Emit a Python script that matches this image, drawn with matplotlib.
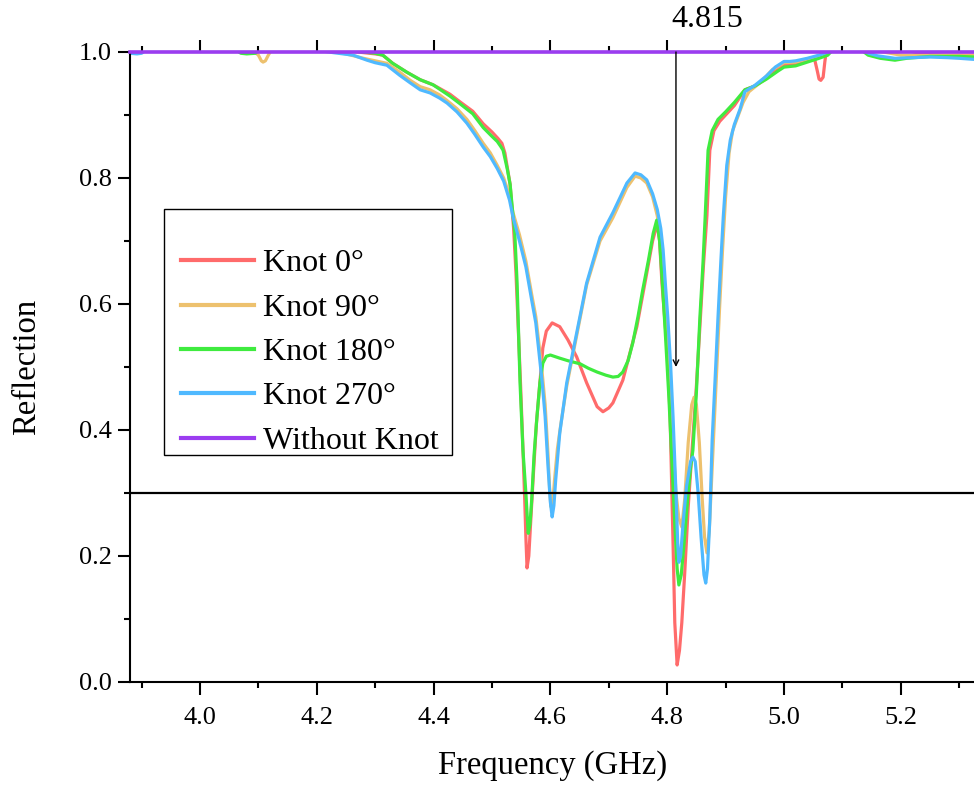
import numpy as np
import matplotlib
matplotlib.use("Agg")
import matplotlib.pyplot as plt
from matplotlib.patches import Rectangle

# ---------------- data ----------------
knot0_freq = [3.880, 4.000, 4.200, 4.250, 4.300, 4.313, 4.330, 4.354, 4.377, 4.399, 4.428, 4.445,
              4.467, 4.485, 4.500, 4.510, 4.517, 4.522, 4.531, 4.537, 4.541, 4.545, 4.549, 4.553,
              4.556, 4.558, 4.560, 4.563, 4.566, 4.570, 4.576, 4.582, 4.587, 4.593, 4.603, 4.616,
              4.630, 4.645, 4.662, 4.680, 4.690, 4.700, 4.707, 4.724, 4.748, 4.765, 4.775, 4.783,
              4.787, 4.791, 4.800, 4.805, 4.808, 4.811, 4.813, 4.817, 4.821, 4.825, 4.830, 4.836,
              4.842, 4.850, 4.857, 4.862, 4.868, 4.873, 4.880, 4.890, 4.900, 4.915, 4.933, 4.950,
              4.970, 4.990, 5.000, 5.020, 5.040, 5.052, 5.057, 5.060, 5.063, 5.067, 5.070, 5.073,
              5.200, 5.240, 5.280, 5.330]
knot0_refl = [1.005, 1.005, 1.005, 1.002, 0.997, 0.995, 0.982, 0.968, 0.956, 0.948, 0.933, 0.921,
              0.906, 0.886, 0.873, 0.863, 0.855, 0.840, 0.790, 0.720, 0.650, 0.560, 0.470, 0.370,
              0.290, 0.230, 0.181, 0.200, 0.250, 0.316, 0.410, 0.475, 0.530, 0.557, 0.570, 0.564,
              0.543, 0.516, 0.475, 0.437, 0.429, 0.435, 0.443, 0.479, 0.564, 0.649, 0.700, 0.728,
              0.700, 0.633, 0.527, 0.421, 0.300, 0.180, 0.094, 0.027, 0.050, 0.094, 0.173, 0.278,
              0.360, 0.470, 0.580, 0.660, 0.740, 0.844, 0.875, 0.890, 0.900, 0.915, 0.940, 0.946,
              0.958, 0.973, 0.980, 0.981, 0.986, 0.990, 0.970, 0.957, 0.955, 0.960, 0.985, 1.005,
              1.005, 0.996, 0.995, 0.995]

knot90_freq = [3.880, 4.090, 4.100, 4.105, 4.108, 4.112, 4.117, 4.122, 4.220, 4.250, 4.280, 4.300,
               4.320, 4.342, 4.360, 4.377, 4.394, 4.410, 4.423, 4.440, 4.457, 4.470, 4.485, 4.497,
               4.509, 4.520, 4.530, 4.536, 4.547, 4.558, 4.568, 4.575, 4.580, 4.586, 4.591, 4.596,
               4.599, 4.601, 4.604, 4.607, 4.612, 4.618, 4.628, 4.645, 4.662, 4.685, 4.707, 4.731,
               4.745, 4.755, 4.765, 4.775, 4.783, 4.789, 4.793, 4.797, 4.801, 4.806, 4.810, 4.815,
               4.820, 4.825, 4.830, 4.836, 4.842, 4.846, 4.850, 4.855, 4.860, 4.864, 4.868, 4.872,
               4.876, 4.880, 4.885, 4.890, 4.895, 4.900, 4.906, 4.912, 4.920, 4.930, 4.940, 4.960,
               4.980, 5.000, 5.020, 5.040, 5.060, 5.080, 5.140, 5.200, 5.300, 5.330]
knot90_refl = [1.005, 1.003, 0.995, 0.986, 0.984, 0.986, 0.995, 1.003, 1.002, 0.997, 0.990, 0.986,
               0.982, 0.968, 0.955, 0.945, 0.940, 0.932, 0.923, 0.910, 0.893, 0.876, 0.855, 0.840,
               0.820, 0.800, 0.772, 0.745, 0.710, 0.668, 0.615, 0.580, 0.540, 0.490, 0.440, 0.360,
               0.300, 0.278, 0.285, 0.320, 0.370, 0.410, 0.470, 0.550, 0.630, 0.700, 0.737, 0.785,
               0.803, 0.800, 0.792, 0.770, 0.740, 0.700, 0.660, 0.600, 0.540, 0.460, 0.380, 0.300,
               0.260, 0.246, 0.290, 0.380, 0.440, 0.452, 0.440, 0.380, 0.290, 0.230, 0.205, 0.240,
               0.320, 0.400, 0.500, 0.600, 0.690, 0.770, 0.840, 0.875, 0.895, 0.920, 0.937, 0.952,
               0.972, 0.983, 0.984, 0.989, 0.994, 1.005, 1.005, 0.995, 0.994, 0.994]

knot180_freq = [3.880, 4.060, 4.070, 4.080, 4.095, 4.100, 4.250, 4.300, 4.313, 4.330, 4.354, 4.377,
                4.399, 4.428, 4.445, 4.467, 4.485, 4.500, 4.509, 4.515, 4.519, 4.526, 4.531, 4.536,
                4.539, 4.543, 4.548, 4.553, 4.558, 4.562, 4.565, 4.568, 4.572, 4.577, 4.582, 4.587,
                4.593, 4.600, 4.616, 4.630, 4.651, 4.665, 4.680, 4.695, 4.707, 4.716, 4.724, 4.733,
                4.741, 4.750, 4.758, 4.768, 4.776, 4.782, 4.787, 4.792, 4.797, 4.803, 4.808, 4.813,
                4.817, 4.820, 4.824, 4.828, 4.835, 4.840, 4.844, 4.850, 4.856, 4.861, 4.865, 4.870,
                4.877, 4.887, 4.900, 4.915, 4.933, 4.950, 4.970, 4.990, 5.000, 5.020, 5.040, 5.060,
                5.075, 5.085, 5.130, 5.144, 5.165, 5.190, 5.210, 5.250, 5.300, 5.330]
knot180_refl = [1.005, 1.004, 0.998, 0.997, 0.998, 1.004, 1.003, 0.998, 0.995, 0.982, 0.968, 0.956,
                0.948, 0.930, 0.918, 0.902, 0.880, 0.866, 0.858, 0.850, 0.844, 0.815, 0.790, 0.740,
                0.713, 0.633, 0.475, 0.368, 0.300, 0.236, 0.250, 0.289, 0.360, 0.421, 0.475, 0.506,
                0.517, 0.519, 0.514, 0.510, 0.505, 0.498, 0.492, 0.487, 0.484, 0.485, 0.492, 0.510,
                0.538, 0.580, 0.622, 0.670, 0.712, 0.733, 0.700, 0.630, 0.550, 0.450, 0.350, 0.250,
                0.180, 0.154, 0.170, 0.210, 0.290, 0.340, 0.368, 0.460, 0.579, 0.660, 0.738, 0.844,
                0.875, 0.893, 0.905, 0.920, 0.940, 0.946, 0.957, 0.970, 0.976, 0.978, 0.984, 0.990,
                0.995, 1.005, 1.005, 0.995, 0.990, 0.987, 0.990, 0.993, 0.993, 0.992]

knot270_freq = [3.880, 3.892, 3.900, 3.910, 4.000, 4.100, 4.200, 4.228, 4.262, 4.286, 4.300, 4.320,
                4.342, 4.360, 4.377, 4.394, 4.410, 4.423, 4.440, 4.457, 4.470, 4.485, 4.497, 4.509,
                4.520, 4.530, 4.536, 4.547, 4.558, 4.568, 4.575, 4.580, 4.586, 4.591, 4.596, 4.600,
                4.603, 4.606, 4.609, 4.616, 4.628, 4.645, 4.662, 4.685, 4.707, 4.731, 4.745, 4.755,
                4.765, 4.775, 4.783, 4.789, 4.793, 4.797, 4.801, 4.806, 4.810, 4.815, 4.818, 4.820,
                4.823, 4.827, 4.833, 4.840, 4.844, 4.848, 4.853, 4.858, 4.863, 4.866, 4.869, 4.873,
                4.877, 4.882, 4.887, 4.892, 4.896, 4.902, 4.908, 4.915, 4.925, 4.933, 4.950, 4.970,
                4.985, 5.000, 5.010, 5.020, 5.040, 5.060, 5.075, 5.090, 5.130, 5.145, 5.160, 5.190,
                5.220, 5.250, 5.280, 5.300, 5.330]
knot270_refl = [0.998, 0.997, 0.998, 1.005, 1.005, 1.005, 1.003, 0.999, 0.995, 0.987, 0.983, 0.979,
                0.963, 0.951, 0.940, 0.935, 0.927, 0.919, 0.905, 0.887, 0.870, 0.849, 0.834, 0.815,
                0.795, 0.765, 0.738, 0.700, 0.659, 0.606, 0.570, 0.527, 0.475, 0.421, 0.341, 0.285,
                0.262, 0.280, 0.320, 0.395, 0.475, 0.554, 0.633, 0.706, 0.745, 0.792, 0.808, 0.805,
                0.797, 0.775, 0.750, 0.720, 0.686, 0.630, 0.579, 0.500, 0.421, 0.300, 0.220, 0.190,
                0.200, 0.250, 0.310, 0.350, 0.357, 0.350, 0.300, 0.230, 0.170, 0.157, 0.180, 0.260,
                0.384, 0.480, 0.579, 0.670, 0.738, 0.820, 0.860, 0.885, 0.910, 0.937, 0.947, 0.962,
                0.976, 0.985, 0.985, 0.986, 0.990, 0.995, 1.000, 1.005, 1.005, 0.998, 0.994, 0.990,
                0.991, 0.992, 0.991, 0.990, 0.988]

noknot_freq = [3.880, 5.330]
noknot_refl = [1.000, 1.000]

series_labels = ["Knot 0°", "Knot 90°", "Knot 180°", "Knot 270°", "Without Knot"]
series_colors = ["#FF6B6B", "#EDC16E", "#3FEB3F", "#4FB9FF", "#9B3DF0"]

xtick_values = [4.0, 4.2, 4.4, 4.6, 4.8, 5.0, 5.2]
ytick_values = [0.0, 0.2, 0.4, 0.6, 0.8, 1.0]
marker_freq = 4.815
threshold = 0.3

# ---------------- figure ----------------
plt.rcParams['font.family'] = ['Liberation Serif', 'DejaVu Serif']

W, H = 974, 786
fig = plt.figure(figsize=(W / 100, H / 100), dpi=100)
ax_left, ax_right, ax_top, ax_bottom = 130, 974, 52, 682
ax = fig.add_axes([ax_left / W, 1 - ax_bottom / H, (ax_right - ax_left) / W, (ax_bottom - ax_top) / H])

all_series = [(knot0_freq, knot0_refl), (knot90_freq, knot90_refl),
              (knot180_freq, knot180_refl), (knot270_freq, knot270_refl)]
for (f, r), lab, col in zip(all_series, series_labels[:4], series_colors[:4]):
    ax.plot(f, r, color=col, lw=2.3, label=lab, solid_joinstyle='round')
ax.plot(noknot_freq, noknot_refl, color=series_colors[4], lw=2.6, label=series_labels[4],
        clip_on=False, zorder=5)

ax.axhline(threshold, color='black', lw=1.6, zorder=6)

ax.set_xlim(4.0 - 70 / 584, 4.0 + 774 / 584)
ax.set_ylim(0, 1)

ax.set_xticks(xtick_values)
ax.set_xticklabels([f"{v:.1f}" for v in xtick_values])
ax.set_xticks(np.round(np.arange(3.9, 5.35, 0.2), 2), minor=True)
ax.set_yticks(ytick_values)
ax.set_yticklabels([f"{v:.1f}" for v in ytick_values])
ax.set_yticks([0.1, 0.3, 0.5, 0.7, 0.9], minor=True)

ax.tick_params(which='both', direction='out', top=True, right=False, labeltop=False,
               width=1.5, labelsize=19)
ax.tick_params(which='major', length=9)
ax.tick_params(which='minor', length=4.5)
ax.tick_params(axis='x', which='major', pad=9)
ax.tick_params(axis='y', which='major', pad=4)

for s in ['left', 'bottom', 'top']:
    ax.spines[s].set_linewidth(1.5)
ax.spines['right'].set_visible(False)

ax.set_xlabel("Frequency (GHz)", fontsize=23.5)
ax.set_ylabel("Reflection", fontsize=23.5)
ax.xaxis.set_label_coords(0.501, -0.108)
ax.yaxis.set_label_coords(-0.104, 0.5)

# annotation arrow at 4.815
ax.annotate("", xy=(marker_freq, 0.50), xytext=(marker_freq, 1.0),
            arrowprops=dict(arrowstyle='->', color='black', lw=1.0, shrinkA=0, shrinkB=0,
                            mutation_scale=10), zorder=7, annotation_clip=False)
ax.text(4.868, 1.051, f"{marker_freq:.3f}", fontsize=23, ha='center', va='center', clip_on=False)

# legend (frame drawn separately to match the original's uneven padding)
frame = Rectangle((164 / W, 1 - 455 / H), (452 - 164) / W, (455 - 209) / H,
                  transform=fig.transFigure, fill=True, facecolor='white',
                  edgecolor='black', lw=1.0, zorder=8, clip_on=False)
ax.add_patch(frame)
leg = ax.legend(loc='upper left', bbox_to_anchor=(181 / W, 1 - 249 / H), bbox_transform=fig.transFigure,
                fontsize=23, frameon=False, borderaxespad=0, borderpad=0,
                handlelength=2.28, handletextpad=0.28, labelspacing=0.47)
for line in leg.get_lines():
    line.set_linewidth(3)
leg.set_zorder(10)

fig.savefig("out.png", dpi=100)
